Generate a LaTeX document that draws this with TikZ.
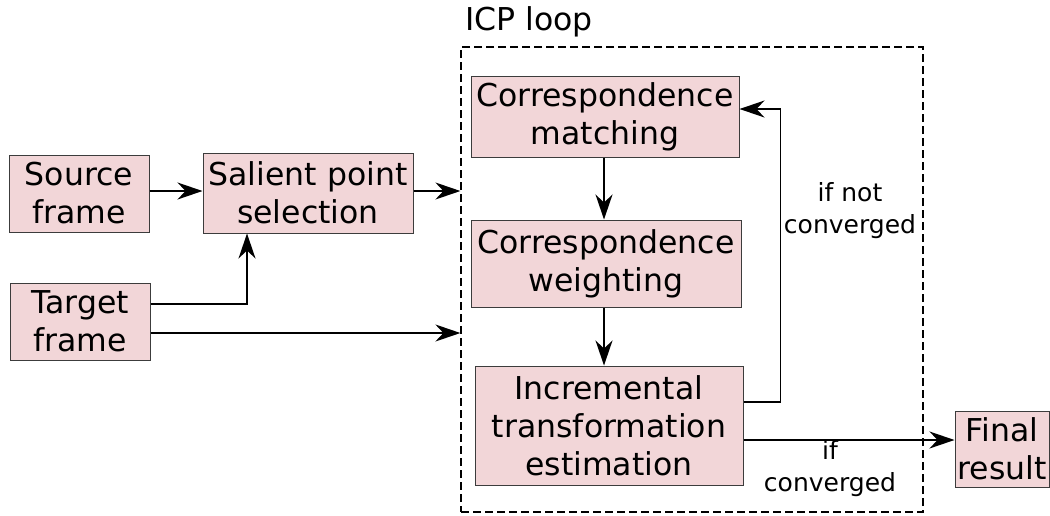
\documentclass[tikz,border=0pt]{standalone}
\usepackage{fontspec}
\setmainfont{DejaVu Sans}
\usetikzlibrary{arrows.meta}
\definecolor{boxfill}{RGB}{242,214,216}
\definecolor{boxline}{RGB}{60,60,60}
\tikzset{
  stage/.style={draw=boxline, line width=1pt, fill=boxfill, align=center,
    inner sep=0pt, font=\fontsize{31.5}{38}\selectfont},
  arr/.style={draw=black, line width=1.5pt,
    -{Stealth[length=25pt, width=17pt, inset=8pt]}},
  note/.style={align=center, inner sep=0pt, font=\fontsize{25}{32}\selectfont},
  loopbox/.style={draw=black, line width=1.2pt, dash pattern=on 8pt off 4pt,
    inner sep=0pt}
}
\begin{document}
\begin{tikzpicture}[x=1pt, y=-1pt]
\useasboundingbox (0,0) rectangle (1050,515);

% ICP loop frame and its title
\node[loopbox, minimum width=462pt, minimum height=465pt] (icp) at (692,279.5) {};
\node[anchor=base west, inner sep=0pt, font=\fontsize{31.5}{38}\selectfont] (icptitle) at (465,30) {ICP loop};

% input stages
\node[stage, minimum width=140pt, minimum height=77pt] (source) at (79,193.5) {Source\\frame};
\node[stage, minimum width=140pt, minimum height=77pt] (target) at (80,321.5) {Target\\frame};
\node[stage, minimum width=210pt, minimum height=80pt] (salient) at (308,193) {Salient point\\selection};

% loop stages
\node[stage, minimum width=268pt, minimum height=81pt] (match) at (605,116.5) {Correspondence\\matching};
\node[stage, minimum width=270pt, minimum height=87pt] (weight) at (606,263.5) {Correspondence\\weighting};
\node[stage, minimum width=268pt, minimum height=119pt] (incr) at (609,425.5) {Incremental\\transformation\\estimation};

% output
\node[stage, minimum width=94pt, minimum height=76pt] (final) at (1002,449) {Final\\result};

% branch labels
\node[note] (notconv) at (850,211) {if not\\converged};
\node[note] (conv) at (830,469) {if\\converged};

% connectors
\draw[arr] ([yshift=2.5pt]source.east) coordinate (s1) -- (s1 -| salient.west);
\draw[arr] ([yshift=2pt]salient.east) coordinate (s2) -- (s2 -| icp.west);
\draw[arr] ([yshift=17.5pt]target.east) -| ([xshift=-61pt]salient.south);
\draw[arr] ([yshift=-11.5pt]target.east) coordinate (t2) -- (t2 -| icp.west);
\draw[arr] ([xshift=-1pt]match.south) coordinate (m1) -- (m1 |- weight.north);
\draw[arr] ([xshift=-2pt]weight.south) coordinate (w1) -- (w1 |- incr.north);
\draw[arr] ([yshift=23.5pt]incr.east) -- ++(37,0) |- ([yshift=7.5pt]match.east);
\draw[arr] ([yshift=-14.5pt]incr.east) coordinate (i2) -- (i2 -| final.west);
\end{tikzpicture}
\end{document}
